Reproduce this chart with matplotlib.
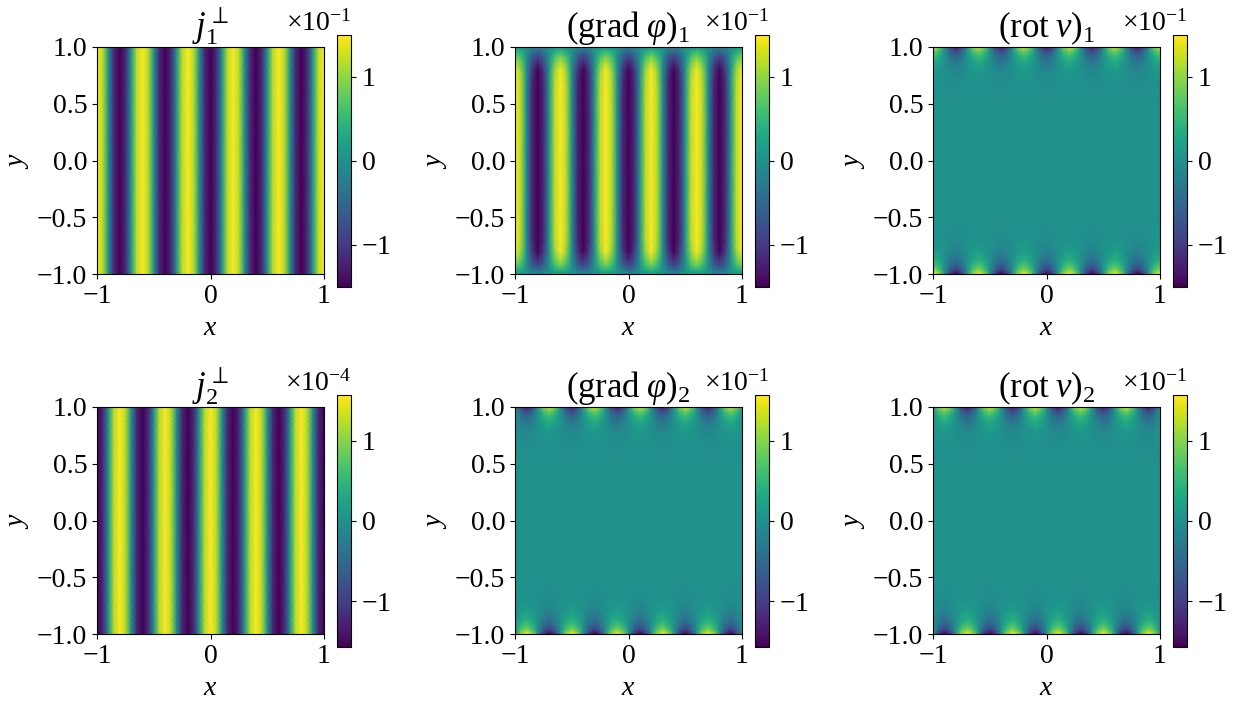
import numpy as np
import matplotlib
matplotlib.use('Agg')
import matplotlib.pyplot as plt
from matplotlib.ticker import ScalarFormatter

plt.rcParams['font.family'] = ['Liberation Serif', 'DejaVu Sans']
plt.rcParams['mathtext.fontset'] = 'custom'
plt.rcParams['mathtext.rm'] = 'Liberation Serif'
plt.rcParams['mathtext.it'] = 'Liberation Serif:italic'
plt.rcParams['mathtext.bf'] = 'Liberation Serif:bold'
plt.rcParams['mathtext.fallback'] = 'stixsans'
plt.rcParams['font.size'] = 20

# Noeuds de la grille
x_nodes = [-1.0, -0.95, -0.9, -0.85, -0.8, -0.75, -0.7, -0.65, -0.6, -0.55, -0.5,
           -0.45, -0.4, -0.35, -0.3, -0.25, -0.2, -0.15, -0.1, -0.05, 0.0,
           0.05, 0.1, 0.15, 0.2, 0.25, 0.3, 0.35, 0.4, 0.45, 0.5,
           0.55, 0.6, 0.65, 0.7, 0.75, 0.8, 0.85, 0.9, 0.95, 1.0]
y_nodes = [-1.0, -0.98, -0.96, -0.92, -0.88, -0.8, -0.7, -0.5, 0.0,
           0.5, 0.7, 0.8, 0.88, 0.92, 0.96, 0.98, 1.0]

# Profils en x : bandes (saturees au-dela de 1)
stripe_j1 = [1.15, 0.78, 0.0, -0.78, -1.15, -0.78, 0.0, 0.78, 1.15, 0.78, 0.0, -0.78, -1.15, -0.78, 0.0, 0.78,
             1.15, 0.78, 0.0, -0.78, -1.15, -0.78, 0.0, 0.78, 1.15, 0.78, 0.0, -0.78, -1.15, -0.78, 0.0, 0.78,
             1.15, 0.78, 0.0, -0.78, -1.15, -0.78, 0.0, 0.78, 1.15]
stripe_j2 = [-1.15, -0.78, 0.0, 0.78, 1.15, 0.78, 0.0, -0.78, -1.15, -0.78, 0.0, 0.78, 1.15, 0.78, 0.0, -0.78,
             -1.15, -0.78, 0.0, 0.78, 1.15, 0.78, 0.0, -0.78, -1.15, -0.78, 0.0, 0.78, 1.15, 0.78, 0.0, -0.78,
             -1.15, -0.78, 0.0, 0.78, 1.15, 0.78, 0.0, -0.78, -1.15]
stripe_shift = [0.0, 0.78, 1.15, 0.78, 0.0, -0.78, -1.15, -0.78, 0.0, 0.78, 1.15, 0.78, 0.0, -0.78, -1.15, -0.78,
                0.0, 0.78, 1.15, 0.78, 0.0, -0.78, -1.15, -0.78, 0.0, 0.78, 1.15, 0.78, 0.0, -0.78, -1.15, -0.78,
                0.0, 0.78, 1.15, 0.78, 0.0, -0.78, -1.15, -0.78, 0.0]

# Profils en y : amplitude relative le long de y_nodes
env_flat = [1.0] * 17
env_grad1 = [0.08, 0.16, 0.3, 0.5, 0.64, 0.86, 0.97, 1.0, 1.0, 1.0, 0.97, 0.86, 0.64, 0.5, 0.3, 0.2, 0.12]
env_rot1 = [0.85, 0.72, 0.55, 0.37, 0.25, 0.1, 0.03, 0.0, 0.0, 0.0, 0.02, 0.08, 0.22, 0.32, 0.48, 0.62, 0.74]
env_grad2 = [0.85, 0.72, 0.55, 0.37, 0.25, 0.1, 0.03, 0.0, 0.0, 0.0, -0.02, -0.08, -0.22, -0.32, -0.48, -0.62, -0.74]
env_rot2 = [-0.85, -0.72, -0.55, -0.37, -0.25, -0.1, -0.03, 0.0, 0.0, 0.0, 0.02, 0.08, 0.22, 0.32, 0.48, 0.62, 0.74]

amp_row1 = 0.15
amp_row2 = 0.157
amp_j2 = 1.57e-4

titles = [r'$j_1^{\perp}$', r'$(\mathrm{grad}\;\varphi)_1$', r'$(\mathrm{rot}\;v)_1$',
          r'$j_2^{\perp}$', r'$(\mathrm{grad}\;\varphi)_2$', r'$(\mathrm{rot}\;v)_2$']
stripes = [stripe_j1, stripe_j1, stripe_j1, stripe_j2, stripe_shift, stripe_shift]
envelopes = [env_flat, env_grad1, env_rot1, env_flat, env_grad2, env_rot2]
amps = [amp_row1, amp_row1, amp_row1, amp_j2, amp_row2, amp_row2]
cbar_ticks = [[-0.1, 0, 0.1], [-0.1, 0, 0.1], [-0.1, 0, 0.1],
              [-1e-4, 0, 1e-4], [-0.1, 0, 0.1], [-0.1, 0, 0.1]]

W, H = 1250, 707
lefts = [97, 515, 933]
tops = [47, 407]
ax_size = 227
fig = plt.figure(figsize=(W / 100, H / 100), dpi=100)

for i in range(6):
    col, row = i % 3, i // 3
    x0, y0 = lefts[col], tops[row]
    ax = fig.add_axes([x0 / W, 1 - (y0 + ax_size) / H, ax_size / W, ax_size / H])
    Z = np.outer(envelopes[i], stripes[i]) * amps[i]
    mesh = ax.pcolormesh(x_nodes, y_nodes, Z, shading='gouraud', cmap='viridis',
                         vmin=-amps[i], vmax=amps[i])
    ax.set_xticks([-1, 0, 1])
    ax.set_yticks([-1.0, -0.5, 0.0, 0.5, 1.0])
    ax.tick_params(axis='x', pad=4)
    ax.set_xlabel(r'$x$', labelpad=5)
    ax.set_ylabel(r'$y$', labelpad=4)
    ax.set_title(titles[i], fontsize=25, pad=3)

    cax = fig.add_axes([(x0 + 240) / W, 1 - (y0 + ax_size + 13) / H, 14 / W, 252 / H])
    cb = fig.colorbar(mesh, cax=cax)
    fmt = ScalarFormatter(useMathText=True)
    fmt.set_powerlimits((0, 0))
    cb.formatter = fmt
    cb.set_ticks(cbar_ticks[i])
    cb.update_ticks()

fig.savefig('out.png', dpi=100)
